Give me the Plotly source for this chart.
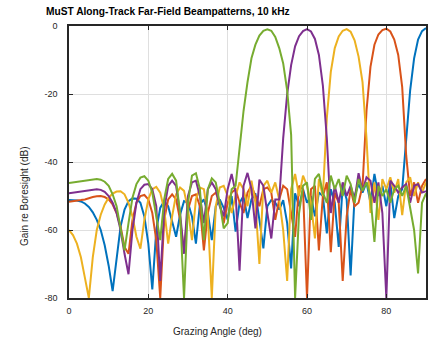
import plotly.graph_objects as go

angles = list(range(0, 91))

blue = [-51.2, -51.2, -51.3, -51.6, -52.2, -53.2, -54.8, -57, -60, -64.5,
        -70.5, -78, -68, -59, -54, -51.5, -50.7, -50.8, -52, -56,
        -64, -77.5, -60, -53.5, -51.5, -53, -57.5, -62, -55.5, -51.5,
        -52, -56, -64, -52.5, -51, -55, -63, -53, -51, -53.5,
        -57, -50, -60.5, -52, -50, -56.5, -51, -49.2, -57, -65.4,
        -53, -51.2, -52, -54, -51.2, -58, -71.3, -49.2, -53, -48,
        -52, -50, -56, -49, -50, -61, -48, -52, -65, -47,
        -51, -73.4, -50, -46.5, -49, -46, -52, -43.5, -50, -47,
        -53, -46, -56.5, -50, -48, -33, -19, -9.5, -4, -1.5,
        -0.6]

orange = [-51.7, -51.6, -51.4, -51.2, -51, -50.6, -50.3, -50.1, -50.0, -50.3,
          -51, -52.5, -55, -59, -65, -67, -57, -52, -50, -49.7,
          -51, -55, -63, -80, -57, -51, -49.5, -51, -57, -66,
          -54, -50, -49.5, -53, -66, -55, -50, -49, -52, -58,
          -52, -49, -48, -52, -55, -49, -47, -50, -53, -48,
          -47.5, -49, -57, -51, -47, -48, -55, -62, -47, -48,
          -80, -48, -47, -66, -50, -46, -66.5, -49, -52, -75,
          -56, -48, -53, -52, -47, -25, -12, -5.5, -2.5, -1.2,
          -0.8, -1.6, -4, -8.5, -18, -38, -50, -46, -52, -47,
          -45]

yellow = [-60, -61.5, -64, -68, -74, -80, -68, -60, -55.5, -52.5,
          -50.5, -49.3, -48.7, -48.6, -49.5, -52, -56, -62, -65.5, -57,
          -51, -48, -47.3, -49, -54, -64, -56, -49.5, -47.5, -48.5,
          -54, -63, -51, -47.5, -48, -56, -80, -53, -47.5, -47,
          -50, -55, -50, -46, -48, -53, -45.5, -52, -70, -47,
          -45.5, -49, -46, -51, -60, -75, -48, -43.5, -50, -44,
          -47, -52, -62.5, -45, -50, -27, -13.5, -6.5, -3.1, -1.4,
          -0.9, -1.7, -4.2, -9, -16.5, -33, -55, -46, -57, -45,
          -48, -44.5, -49, -45, -55.6, -46, -44.5, -50, -46, -49,
          -46]

purple = [-49.2, -49.0, -48.8, -48.6, -48.4, -48.2, -48.0, -48.0, -48.2, -48.8,
          -50, -52, -55, -60, -67, -73, -60, -52, -48, -46.7,
          -46.5, -48, -53, -75, -54, -47, -45.5, -47, -55, -67,
          -50, -46, -45.5, -50, -58, -48, -46, -48, -53, -56,
          -48, -43.5, -49, -72, -47, -43.2, -48, -59.5, -45.2, -47,
          -55, -62.5, -51, -51, -33, -20, -11.5, -6, -3, -1.5,
          -0.9, -1.6, -3.8, -8.5, -17.5, -33, -55, -47, -52, -46,
          -50, -47, -51, -43.3, -48.5, -44.5, -45.5, -52, -46, -55,
          -80, -45.5, -47, -49, -47.5, -46.5, -52, -47, -46.5, -49,
          -48.6]

green = [-46.2, -46.0, -45.8, -45.6, -45.4, -45.2, -45.1, -45.0, -45.2, -45.8,
         -47, -49.5, -53, -59, -66, -58, -50.5, -46.5, -44.6, -44.2,
         -45.5, -49, -56, -63, -51, -45, -43.5, -45.5, -55, -80,
         -52, -44, -43.3, -48, -63, -48, -44.8, -46, -52, -59.5,
         -58, -48, -47, -36, -25, -16.5, -9.5, -5.5, -2.8, -1.4,
         -1, -1.4, -3.2, -6.5, -11, -19, -32, -80, -55, -47,
         -46, -57, -45, -43.5, -49, -52, -44, -48, -45, -50,
         -44, -46.5, -52, -45, -48.5, -46, -50, -63.5, -47, -50,
         -48, -52, -48, -47, -50, -47, -53, -60, -72.8, -52,
         -49.2]

series = [("blue", blue, "#0072BD"), ("orange", orange, "#D95319"),
          ("yellow", yellow, "#EDB120"), ("purple", purple, "#7E2F8E"),
          ("green", green, "#77AC30")]

x_ticks = [0, 20, 40, 60, 80]
y_ticks = [0, -20, -40, -60, -80]
y_tick_labels = ["0", "-20", "-40", "-60", "-80"]

fig = go.Figure()
for name, vals, col in series:
    fig.add_trace(go.Scatter(x=angles, y=vals, mode="lines", name=name,
                             line=dict(color=col, width=2), showlegend=False))

axis_col = "#262626"
fig.update_layout(
    width=430, height=340,
    margin=dict(l=69, r=4, t=26, b=42, autoexpand=False),
    paper_bgcolor="white", plot_bgcolor="white",
    font=dict(family="Liberation Sans, Arial, sans-serif", size=9, color=axis_col),
    title=dict(text="<b>MuST Along-Track Far-Field Beampatterns, 10 kHz</b>",
               x=46 / 430, xanchor="left", y=1 - 11 / 340, yanchor="middle",
               font=dict(size=10.2, color="black")),
    annotations=[
        dict(text="Grazing Angle (deg)", xref="paper", yref="paper",
             x=(217 - 69) / 357, y=(298 - 331) / 272, xanchor="center", yanchor="middle",
             showarrow=False, font=dict(size=10, color=axis_col)),
        dict(text="Gain re Boresight (dB)", xref="paper", yref="paper",
             x=(24 - 69) / 357, y=(298 - 196) / 272, xanchor="center", yanchor="middle",
             textangle=-90, showarrow=False, font=dict(size=10, color=axis_col)),
    ],
)
fig.update_xaxes(range=[0, 90], tickvals=x_ticks, ticktext=[str(v) for v in x_ticks],
                 showgrid=True, gridcolor="#dfdfdf", gridwidth=1,
                 showline=True, linecolor=axis_col, linewidth=1.5, mirror="ticks",
                 ticks="inside", ticklen=4, tickcolor=axis_col, zeroline=False,
                 automargin=False, ticklabelstandoff=3)
fig.update_yaxes(range=[-80, 0], tickvals=y_ticks, ticktext=y_tick_labels,
                 showgrid=True, gridcolor="#dfdfdf", gridwidth=1,
                 showline=True, linecolor=axis_col, linewidth=1.5, mirror="ticks",
                 ticks="inside", ticklen=4, tickcolor=axis_col, zeroline=False,
                 automargin=False, ticklabelstandoff=8)

fig.write_html("out.html", config={"displayModeBar": False},
               post_script="document.body.style.margin='0';document.body.style.overflow='hidden';")
